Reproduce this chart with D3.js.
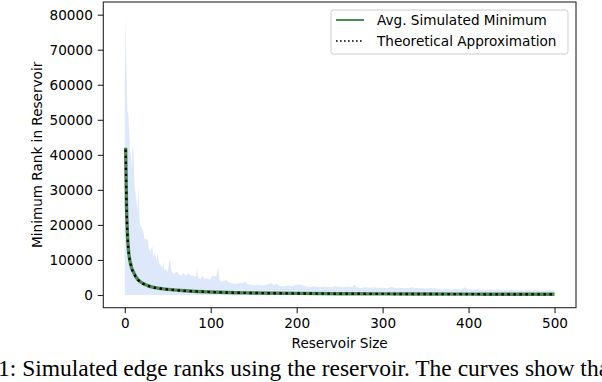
<!DOCTYPE html>
<html>
<head>
<meta charset="utf-8">
<script src="https://cdn.jsdelivr.net/npm/d3@7"></script>
<style>
  body { margin: 0; background: #fff; }
  svg { display: block; }
</style>
</head>
<body>
<script>
// reservoir sizes where the simulated max (upper edge of the shaded band) was read
const envSize = [0,1,2,3,4,5,6,7,8,9,10,11,12,13,14,15,16,17,18,19,20,21,22,23,25,27,28,30,32,33,35,37,38,40,42,44,45,46,48,50,52,53,54,56,58,60,62,65,68,71,74,77,80,83,84,85,88,90,93,96,99,102,105,107,109,110,112,115,118,120,123,126,130,134,138,140,142,146,150,155,160,165,170,173,176,180,185,190,195,200,205,210,215,220,225,230,235,240,245,250,255,260,265,267,270,275,280,285,290,295,300,305,310,315,320,325,330,335,340,345,350,355,360,365,370,375,380,385,390,396,400,405,410,415,420,425,430,435,440,445,450,455,460,465,470,475,480,485,490,495,500];
const envHigh = [60000,79600,64000,52300,52000,47000,41000,40000,36000,42300,42000,33000,30000,28000,26000,24000,31300,22000,20000,19500,19000,18500,17500,16000,16000,15500,13000,12500,14000,11000,12000,9500,12000,9000,8500,7500,10000,7000,7500,6500,10000,10000,7000,6200,6000,6800,6200,5500,6200,5600,6300,5400,5600,5200,8300,5000,4500,5500,4600,4800,4400,5600,5400,5700,8100,4500,3800,4000,4300,3800,3500,3300,3200,3400,3300,4000,3200,2900,2800,2900,2700,2900,3400,2800,3300,2600,2500,2700,2500,3000,2900,2500,2300,2500,2200,2400,2300,2200,2500,2300,2200,2400,2300,3050,2200,2000,2300,2100,2200,2000,2100,1900,2300,2000,2100,1900,2000,2200,1900,2000,1800,2000,1900,1700,1600,1800,1500,1700,1600,2200,1600,1500,1700,1400,1500,1600,1400,1500,1300,1400,1500,1300,1400,1300,1500,1300,1400,1200,1300,1400,1300];
const envLow = 0; // simulated minimum rank sits on zero for every size

// average simulated minimum
const avgSize = [1,2,3,4,5,6,7,8,10,12,14,17,20,25,30,35,40,50,60,70,80,100,120,150,200,250,300,350,400,450,500];
const avgRank = [42000,25500,17800,13600,11300,9700,8700,7700,6600,5600,4800,4000,3450,2850,2400,2100,1900,1600,1380,1200,1060,860,700,580,450,370,320,280,250,220,200];

// theoretical approximation
const theorySize = [1,2,3,4,5,6,7,8,10,12,14,17,20,25,30,35,40,50,60,70,80,100,120,150,200,250,300,350,400,450,500];
const theoryRank = [41500,26000,17500,13500,11200,9600,8600,7600,6500,5500,4750,3950,3400,2800,2380,2080,1880,1580,1360,1190,1050,850,700,570,440,365,315,275,245,215,195];

const xTicks = [0, 100, 200, 300, 400, 500];
const yTicks = [0, 10000, 20000, 30000, 40000, 50000, 60000, 70000, 80000];

const W = 602, H = 382;
const plotL = 103.3, plotR = 576, plotT = 2, plotB = 307.7;
const font = "'DejaVu Sans', sans-serif";

const svg = d3.select("body").append("svg")
    .attr("width", W)
    .attr("height", H);

const x = d3.scaleLinear().domain([-25, 525]).range([plotL, plotR]);
const y = d3.scaleLinear().domain([-3625, 83620]).range([plotB, plotT]);

const band = envSize.map((s, i) => ({s, hi: envHigh[i]}));

svg.append("path")
    .datum(band)
    .attr("fill", "#6495ed")
    .attr("fill-opacity", 0.22)
    .attr("d", d3.area()
      .x(d => x(d.s))
      .y0(y(envLow))
      .y1(d => y(d.hi)));

svg.append("path")
    .datum(avgSize.map((s, i) => [s, avgRank[i]]))
    .attr("fill", "none")
    .attr("stroke", "#4a8b52")
    .attr("stroke-width", 3.4)
    .attr("d", d3.line().x(d => x(d[0])).y(d => y(d[1])).curve(d3.curveMonotoneX));

svg.append("path")
    .datum(theorySize.map((s, i) => [s, theoryRank[i]]))
    .attr("fill", "none")
    .attr("stroke", "#000")
    .attr("stroke-width", 2.4)
    .attr("stroke-dasharray", "2.4,3.6")
    .attr("d", d3.line().x(d => x(d[0])).y(d => y(d[1])).curve(d3.curveMonotoneX));

// frame
svg.append("rect")
    .attr("x", plotL).attr("y", plotT)
    .attr("width", plotR - plotL).attr("height", plotB - plotT)
    .attr("fill", "none")
    .attr("stroke", "#262626")
    .attr("stroke-width", 1.1);

// axes
const xAxis = svg.append("g")
    .attr("transform", `translate(0,${plotB})`)
    .call(d3.axisBottom(x).tickValues(xTicks).tickSize(5.5).tickPadding(5));
const yAxis = svg.append("g")
    .attr("transform", `translate(${plotL},0)`)
    .call(d3.axisLeft(y).tickValues(yTicks).tickSize(5.5).tickPadding(5).tickFormat(d3.format("d")));

[xAxis, yAxis].forEach(g => {
  g.select(".domain").remove();
  g.selectAll(".tick line").attr("stroke", "#262626").attr("stroke-width", 1.1);
  g.selectAll(".tick text").attr("fill", "#000").style("font-family", font).style("font-size", "13.6px");
});

svg.append("text")
    .attr("x", (plotL + plotR) / 2)
    .attr("y", 348)
    .attr("text-anchor", "middle")
    .style("font-family", font).style("font-size", "13.6px")
    .text("Reservoir Size");

svg.append("text")
    .attr("transform", `translate(41.7,${(plotT + plotB) / 2}) rotate(-90)`)
    .attr("text-anchor", "middle")
    .style("font-family", font).style("font-size", "13.6px")
    .text("Minimum Rank in Reservoir");

// legend
const legend = svg.append("g");
legend.append("rect")
    .attr("x", 331).attr("y", 10)
    .attr("width", 237).attr("height", 44)
    .attr("rx", 2.5)
    .attr("fill", "#fff").attr("fill-opacity", 0.8)
    .attr("stroke", "#cccccc").attr("stroke-width", 1);
const entries = [
  {label: "Avg. Simulated Minimum", color: "#4a8b52", dash: null, w: 2},
  {label: "Theoretical Approximation", color: "#000", dash: "1.6,2.4", w: 1.6}
];
entries.forEach((e, i) => {
  const cy = 20 + i * 21;
  legend.append("line")
      .attr("x1", 336).attr("x2", 364)
      .attr("y1", cy).attr("y2", cy)
      .attr("stroke", e.color)
      .attr("stroke-width", e.w)
      .attr("stroke-dasharray", e.dash);
  legend.append("text")
      .attr("x", 377).attr("y", cy + 5)
      .style("font-family", font).style("font-size", "13.6px")
      .text(e.label);
});

// caption fragment below the figure (cut at both edges, as in the source)
svg.append("text")
    .attr("x", -2).attr("y", 376)
    .style("font-family", "'Liberation Serif', 'Times New Roman', serif")
    .style("font-size", "23.5px")
    .text("1: Simulated edge ranks using the reservoir. The curves show tha");
</script>
</body>
</html>
